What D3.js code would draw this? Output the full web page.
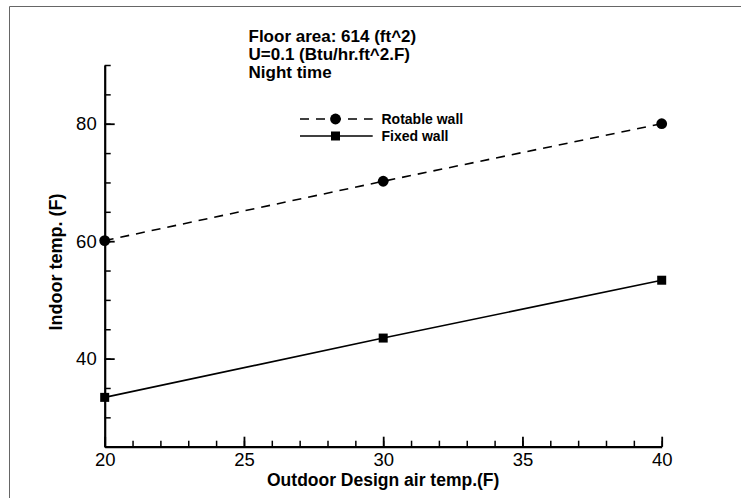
<!DOCTYPE html>
<html lang="en">
<head>
    <meta charset="UTF-8">
    <title>Indoor temp vs outdoor design air temp</title>
    <style>
        body {
            margin: 0;
            padding: 0;
            background-color: #fff;
        }
        svg {
            display: block;
            font-family: 'Liberation Sans', Arial, sans-serif;
        }
        .axis path, .axis line {
            stroke: #000;
        }
        .axis text {
            fill: #000;
        }
        .axis-title, .note, .legend-label {
            font-weight: bold;
            fill: #000;
        }
    </style>
</head>
<body>
    <div id="chart"></div>

    <script src="https://d3js.org/d3.v7.min.js"></script>
    <script>
        // data
        const outdoorTemps = [20, 30, 40];
        const rotableWall = [60.1, 70.2, 80];
        const fixedWall = [33.4, 43.5, 53.35];
        const seriesNames = ["Rotable wall", "Fixed wall"];
        const xTicks = [20, 25, 30, 35, 40];
        const yTicks = [40, 60, 80];
        const notes = ["Floor area: 614 (ft^2)", "U=0.1 (Btu/hr.ft^2.F)", "Night time"];

        const series = [
            { name: seriesNames[0], values: rotableWall, dash: "9,7", marker: "circle" },
            { name: seriesNames[1], values: fixedWall, dash: null, marker: "square" }
        ];

        const width = 741, height = 498;
        const plot = { left: 104.7, right: 661.7, top: 65, bottom: 446.7 };

        const svg = d3.select("#chart").append("svg")
            .attr("width", width)
            .attr("height", height);

        svg.append("rect")
            .attr("width", width)
            .attr("height", height)
            .attr("fill", "#fff");

        // frame edges (only top and left show in the picture)
        svg.append("path")
            .attr("d", `M9.5,${height}V6.5H${width}`)
            .attr("fill", "none")
            .attr("stroke", "#666")
            .attr("stroke-width", 1);

        const x = d3.scaleLinear()
            .domain([20, 40])
            .range([plot.left, plot.right]);

        const y = d3.scaleLinear()
            .domain([25, 90])
            .range([plot.bottom, plot.top]);

        // minor ticks
        svg.append("g")
            .attr("class", "axis")
            .attr("transform", `translate(0,${plot.bottom})`)
            .call(d3.axisBottom(x).tickValues(d3.range(20, 41, 1)).tickSize(-6).tickFormat(""))
            .call(g => g.select(".domain").remove())
            .selectAll("line").attr("stroke-width", 1.5);

        svg.append("g")
            .attr("class", "axis")
            .attr("transform", `translate(${plot.left},0)`)
            .call(d3.axisLeft(y).tickValues(d3.range(25, 91, 5)).tickSize(-6).tickFormat(""))
            .call(g => g.select(".domain").remove())
            .selectAll("line").attr("stroke-width", 1.5);

        // major axes
        const xAxis = svg.append("g")
            .attr("class", "axis")
            .attr("transform", `translate(0,${plot.bottom})`)
            .call(d3.axisBottom(x).tickValues(xTicks).tickSize(-10).tickSizeOuter(0).tickPadding(6));
        xAxis.select(".domain").attr("stroke-width", 2.2);
        xAxis.selectAll("line").attr("stroke-width", 1.8);

        const yAxis = svg.append("g")
            .attr("class", "axis")
            .attr("transform", `translate(${plot.left},0)`)
            .call(d3.axisLeft(y).tickValues(yTicks).tickSize(-10).tickSizeOuter(0).tickPadding(8));
        yAxis.select(".domain").attr("stroke-width", 2.2);
        yAxis.selectAll("line").attr("stroke-width", 1.8);

        svg.selectAll(".axis text")
            .attr("font-size", null)
            .style("font-size", "18.5px");

        // axis titles
        svg.append("text")
            .attr("class", "axis-title")
            .attr("x", (plot.left + plot.right) / 2)
            .attr("y", 485.5)
            .attr("text-anchor", "middle")
            .style("font-size", "17.5px")
            .text("Outdoor Design air temp.(F)");

        svg.append("text")
            .attr("class", "axis-title")
            .attr("transform", "translate(62,262) rotate(-90)")
            .attr("text-anchor", "middle")
            .style("font-size", "18px")
            .text("Indoor temp. (F)");

        // notes
        svg.append("g").selectAll("text")
            .data(notes)
            .enter().append("text")
            .attr("class", "note")
            .attr("x", 248.5)
            .attr("y", (d, i) => 41.7 + i * 18.3)
            .style("font-size", "17px")
            .text(d => d);

        // lines
        const line = d3.line()
            .x((d, i) => x(outdoorTemps[i]))
            .y(d => y(d));

        function drawMarker(sel, type, cx, cy) {
            if (type === "circle") {
                sel.append("circle").attr("cx", cx).attr("cy", cy).attr("r", 5.4).attr("fill", "#000");
            } else {
                sel.append("rect").attr("x", cx - 4.5).attr("y", cy - 4.5)
                    .attr("width", 9).attr("height", 9).attr("fill", "#000");
            }
        }

        series.forEach(s => {
            svg.append("path")
                .datum(s.values)
                .attr("fill", "none")
                .attr("stroke", "#000")
                .attr("stroke-width", 1.6)
                .attr("stroke-dasharray", s.dash)
                .attr("d", line);
            const g = svg.append("g");
            s.values.forEach((v, i) => drawMarker(g, s.marker, x(outdoorTemps[i]), y(v)));
        });

        // legend
        const legend = svg.append("g").attr("transform", "translate(300,119)");
        series.forEach((s, i) => {
            const row = legend.append("g").attr("transform", `translate(0,${i * 17})`);
            row.append("line")
                .attr("x1", 0).attr("x2", 72.7)
                .attr("stroke", "#000")
                .attr("stroke-width", 1.6)
                .attr("stroke-dasharray", s.dash);
            drawMarker(row, s.marker, 35.5, 0);
            row.append("text")
                .attr("class", "legend-label")
                .attr("x", 81.5)
                .attr("y", 4.8)
                .style("font-size", "14px")
                .text(s.name);
        });
    </script>
</body>
</html>
